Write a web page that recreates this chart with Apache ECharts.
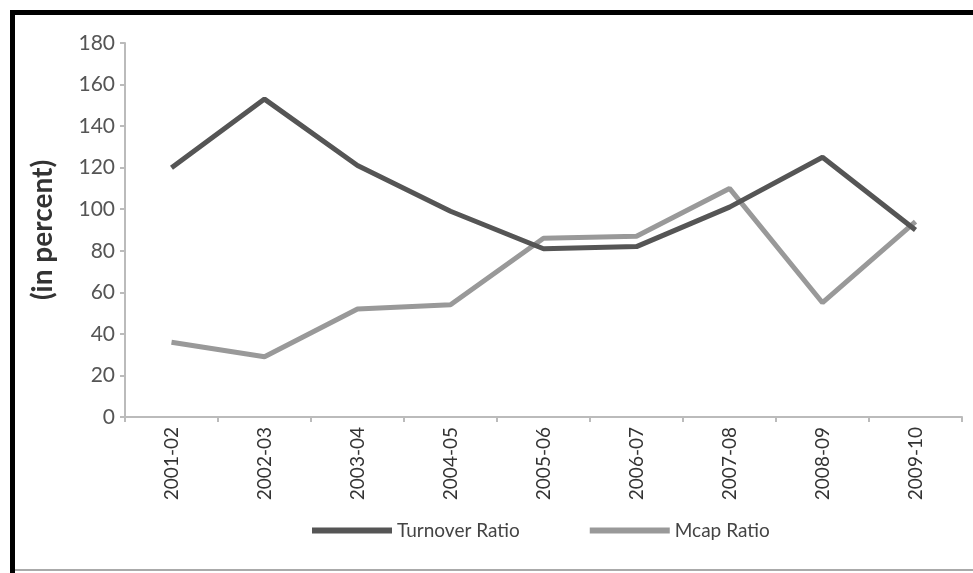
<!DOCTYPE html>
<html>
<head>
<meta charset="utf-8">
<script src="https://cdn.jsdelivr.net/npm/echarts@6/dist/echarts.min.js"></script>
<style>
  html, body { margin: 0; padding: 0; background: #fff; }
  #chart { width: 973px; height: 573px; }
</style>
</head>
<body>
<div id="chart"></div>
<script>
// Fiscal years on the category axis
const years = ['2001-02', '2002-03', '2003-04', '2004-05', '2005-06', '2006-07', '2007-08', '2008-09', '2009-10'];
// Ratios in percent
const turnoverRatio = [120, 153, 121, 99, 81, 82, 101, 125, 90];
const mcapRatio = [36, 29, 52, 54, 86, 87, 110, 55, 94];
const yTicks = { min: 0, max: 180, interval: 20 };

const chart = echarts.init(document.getElementById('chart'));
const font = 'Lato, "Open Sans", sans-serif';

chart.setOption({
  animation: false,
  backgroundColor: '#fff',
  textStyle: { fontFamily: font },
  graphic: [
    // frame: heavy black top and left edges, thin grey bottom edge
    { type: 'rect', shape: { x: 10, y: 10, width: 963, height: 5 }, style: { fill: '#000' } },
    { type: 'rect', shape: { x: 10, y: 10, width: 5, height: 563 }, style: { fill: '#000' } },
    { type: 'rect', shape: { x: 15, y: 569, width: 958, height: 2 }, style: { fill: '#aaa' } }
  ],
  grid: { left: 125, right: 11, top: 43, bottom: 156, containLabel: false },
  legend: {
    bottom: 28,
    left: 307,
    itemWidth: 80,
    itemHeight: 6,
    itemGap: 70,
    icon: 'rect',
    textStyle: { fontSize: 19, color: '#444', fontFamily: font },
    data: ['Turnover Ratio', 'Mcap Ratio']
  },
  xAxis: {
    type: 'category',
    data: years,
    boundaryGap: true,
    axisLine: { lineStyle: { color: '#bbb', width: 2 } },
    axisTick: { show: true, length: 5, lineStyle: { color: '#bbb', width: 2 } },
    axisLabel: { rotate: 90, fontSize: 19, color: '#333', margin: 10, fontFamily: font }
  },
  yAxis: {
    type: 'value',
    min: yTicks.min,
    max: yTicks.max,
    interval: yTicks.interval,
    name: '(in percent)',
    nameLocation: 'middle',
    nameGap: 68,
    nameRotate: 90,
    nameTextStyle: { fontSize: 28, fontWeight: 'bold', color: '#333', fontFamily: font },
    axisLine: { show: true, lineStyle: { color: '#bbb', width: 2 } },
    axisTick: { show: true, length: 5, lineStyle: { color: '#bbb', width: 2 } },
    axisLabel: { fontSize: 21, color: '#555', margin: 10, fontFamily: font },
    splitLine: { show: false }
  },
  series: [
    {
      name: 'Turnover Ratio',
      type: 'line',
      data: turnoverRatio,
      symbol: 'none',
      color: '#555',
      lineStyle: { color: '#555', width: 5 },
      z: 3
    },
    {
      name: 'Mcap Ratio',
      type: 'line',
      data: mcapRatio,
      symbol: 'none',
      color: '#999',
      lineStyle: { color: '#999', width: 5 },
      z: 2
    }
  ]
});
</script>
</body>
</html>
